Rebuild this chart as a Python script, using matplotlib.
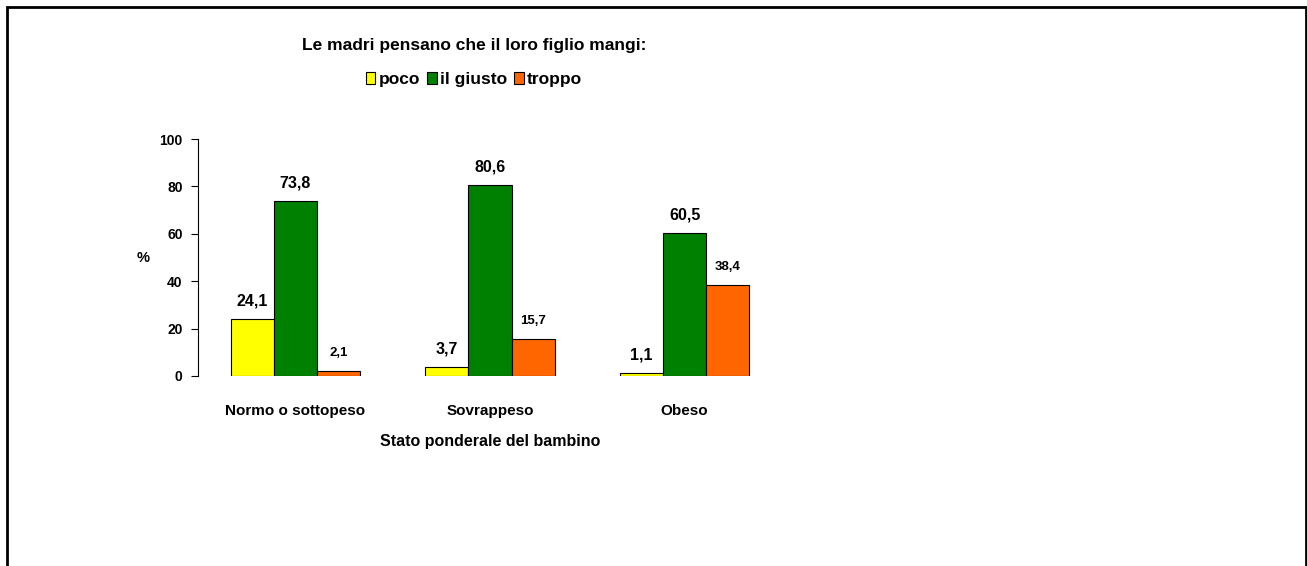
import matplotlib
matplotlib.use("Agg")
import matplotlib.pyplot as plt
import numpy as np
from matplotlib.patches import Rectangle

plt.rcParams['font.family'] = ['Liberation Sans Narrow', 'Liberation Sans', 'DejaVu Sans']
plt.rcParams['font.weight'] = 'bold'

categories = ['Normo o sottopeso', 'Sovrappeso', 'Obeso']
series_names = ['poco', 'il giusto', 'troppo']
poco = [24.1, 3.7, 1.1]
giusto = [73.8, 80.6, 60.5]
troppo = [2.1, 15.7, 38.4]
yticks = [0, 20, 40, 60, 80, 100]

colors = ['#FFFF00', '#008000', '#FF6600']
label_sizes = [11.5, 11.5, 9.5]

fig = plt.figure(figsize=(13.07, 5.66), dpi=100)
ax = fig.add_axes([0.1515, 0.3357, 0.4468, 0.4187])

x = np.arange(len(categories))
width = 0.222
for i, (vals, name) in enumerate(zip([poco, giusto, troppo], series_names)):
    pos = x + (i - 1) * width
    bars = ax.bar(pos, vals, width, color=colors[i], edgecolor='black',
                  linewidth=0.8, label=name)
    for b, v in zip(bars, vals):
        ax.annotate(f"{v:.1f}".replace('.', ','), (b.get_x() + b.get_width() / 2, v),
                    xytext=(0, 13), textcoords='offset points', ha='center',
                    va='center', fontsize=label_sizes[i], fontweight='bold')

ax.set_xlim(-0.5, 2.5)
ax.set_ylim(0, 100)
ax.set_yticks(yticks)
ax.set_yticklabels([str(t) for t in yticks], fontsize=10, fontweight='bold')
ax.set_xticks(x)
ax.set_xticklabels(categories, fontsize=11, fontweight='bold')
ax.tick_params(axis='x', length=0, pad=20)
ax.tick_params(axis='y', length=5, width=0.8, direction='out', pad=6)
for s in ['top', 'right', 'bottom']:
    ax.spines[s].set_visible(False)
ax.spines['left'].set_linewidth(0.8)
ax.set_xlabel('Stato ponderale del bambino', fontsize=11.5, fontweight='bold', labelpad=12)
ax.set_ylabel('%', fontsize=10.5, fontweight='bold', rotation=0, labelpad=12, va='center')

fig.text(0.3627, 0.920, 'Le madri pensano che il loro figlio mangi:', ha='center',
         va='center', fontsize=12.5, fontweight='bold')
leg = fig.legend(loc='center', bbox_to_anchor=(0.3627, 0.860), ncol=3, frameon=False,
                 fontsize=12.5, handlelength=0.55, handleheight=0.75, handletextpad=0.2,
                 columnspacing=0.4)

# outer frame
fig.patches.append(Rectangle((0.005, -0.02), 0.994, 1.008, transform=fig.transFigure,
                             fill=False, edgecolor='black', linewidth=2))

fig.savefig('out.png', dpi=100)
